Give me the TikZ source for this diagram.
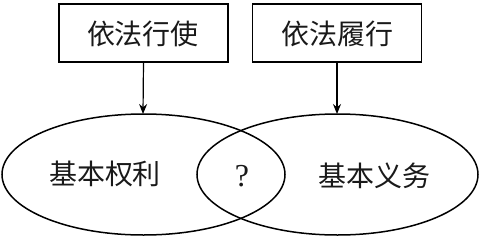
\documentclass[tikz,border=0pt]{standalone}
\usepackage{fontspec}
\newfontfamily\cjk{Noto Sans CJK SC}
\newfontfamily\qfont{Liberation Serif}
\usetikzlibrary{arrows.meta}
\begin{document}
\begin{tikzpicture}[x=1pt,y=-1pt,
  every node/.style={inner sep=0pt, outer sep=0pt},
  lbl/.style={font=\cjk\fontsize{28}{30}\selectfont, text=black!90},
  boxn/.style={draw, line width=1.5pt, minimum width=169pt, minimum height=58pt},
  ell/.style={draw, line width=1.5pt},
  arr/.style={draw, line width=1.2pt, -{Stealth[length=10pt,width=8pt]}}]
\useasboundingbox (0,0) rectangle (483,239);
\node[boxn] (b1) at (143.5,33) {};
\node[boxn] (b2) at (337,33) {};
\node[lbl] (t1) at (143,34) {依法行使};
\node[lbl] (t2) at (337,34) {依法履行};
\draw[ell] (143.5,174.5) ellipse [x radius=141.5, y radius=60.5];
\draw[ell] (337.5,174.5) ellipse [x radius=140.5, y radius=60.5];
\coordinate (e1) at (143,114);
\coordinate (e2) at (337,114);
\draw[arr] (b1.south) -- (e1);
\draw[arr] (b2.south) -- (e2);
\node[lbl] (l1) at (105,174) {基本权利};
\node[lbl] (l2) at (374,176) {基本义务};
\node[text=black!90] (q) at (242,176) {\qfont\fontsize{32}{34}\selectfont ?};
\end{tikzpicture}
\end{document}
